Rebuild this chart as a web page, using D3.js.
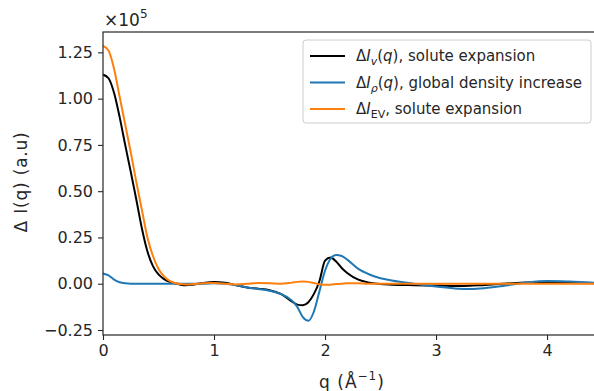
<!DOCTYPE html>
<html>
<head>
<meta charset="utf-8">
<script src="https://cdn.jsdelivr.net/npm/d3@7"></script>
<style>
  body { margin: 0; background: #fff; }
  svg text { font-family: "DejaVu Sans", sans-serif; fill: #262626; }
</style>
</head>
<body>
<div id="chart"></div>
<script>
// q grid (1/Angstrom) shared by all three curves
const qValues = [0, 0.05, 0.1, 0.15, 0.2, 0.25, 0.3, 0.35, 0.4, 0.45, 0.5, 0.55, 0.6, 0.65, 0.7, 0.75, 0.8, 0.9,
  1.0, 1.1, 1.2, 1.3, 1.4, 1.5, 1.6, 1.7, 1.75, 1.8, 1.85, 1.9, 1.95, 2.0, 2.05, 2.1, 2.15, 2.2, 2.3, 2.4, 2.5,
  2.6, 2.8, 3.0, 3.2, 3.3, 3.4, 3.6, 3.8, 4.0, 4.2, 4.5];

// values in units of 1e5
const solute = [1.13, 1.11, 1.03, 0.90, 0.75, 0.605, 0.455, 0.30, 0.175, 0.095, 0.05, 0.025, 0.01, 0.002, -0.005, -0.008, -0.006, 0.004,
  0.01, 0.006, -0.008, -0.02, -0.027, -0.035, -0.055, -0.095, -0.113, -0.116, -0.10, -0.055, 0.015, 0.125, 0.142, 0.12, 0.085, 0.058, 0.022, 0.006, -0.002,
  -0.005, -0.008, -0.01, -0.012, -0.011, -0.008, 0.0, 0.006, 0.01, 0.006, 0.002];

const density = [0.056, 0.045, 0.022, 0.008, 0.002, 0.0, 0.0, 0.0, 0.0, 0.0, 0.0, 0.0, 0.0, 0.0, 0.0, 0.0, 0.0, 0.0,
  0.002, 0.0, -0.008, -0.02, -0.028, -0.038, -0.055, -0.09, -0.125, -0.18, -0.2, -0.15, -0.04, 0.07, 0.135, 0.155, 0.15, 0.13, 0.08, 0.05, 0.03,
  0.018, 0.0, -0.015, -0.027, -0.029, -0.026, -0.012, 0.005, 0.015, 0.012, 0.003];

const excluded = [1.285, 1.26, 1.16, 1.01, 0.86, 0.71, 0.55, 0.40, 0.25, 0.15, 0.08, 0.04, 0.015, 0.004, -0.002, -0.004, -0.003, 0.002,
  0.004, 0.0, -0.004, 0.0, 0.004, 0.003, 0.0, 0.006, 0.01, 0.012, 0.01, 0.004, -0.004, -0.006, -0.005, -0.002, 0.0, 0.003, 0.002, 0.0, 0.0,
  0.0, 0.0, 0.0, 0.0, 0.0, 0.0, 0.0, 0.0, 0.0, 0.0, 0.0];

const xTicks = [0, 1, 2, 3, 4];
const yTicks = [-0.25, 0, 0.25, 0.5, 0.75, 1.0, 1.25];

const seriesColors = ["#000000", "#1f77b4", "#ff7f0e"];

const width = 594, height = 391;
// the axes run past the right edge of the picture (right spine is cut off)
const margin = { top: 32, right: -7, bottom: 56, left: 103 };

const svg = d3.select("#chart").append("svg")
  .attr("width", width)
  .attr("height", height);

const x = d3.scaleLinear().domain([0, 4.486]).range([margin.left, width - margin.right]);
const y = d3.scaleLinear().domain([-0.277, 1.36]).range([height - margin.bottom, margin.top]);

svg.append("clipPath").attr("id", "plot-clip")
  .append("rect")
  .attr("x", margin.left).attr("y", margin.top)
  .attr("width", width - margin.right - margin.left)
  .attr("height", height - margin.bottom - margin.top);

// Curves
const line = d3.line()
  .x((d, i) => x(qValues[i]))
  .y(d => y(d))
  .curve(d3.curveMonotoneX);

[solute, density, excluded].forEach((vals, i) => {
  svg.append("path")
    .attr("clip-path", "url(#plot-clip)")
    .attr("d", line(vals))
    .attr("fill", "none")
    .attr("stroke", seriesColors[i])
    .attr("stroke-width", 2);
});

// Axes
const xAxis = svg.append("g")
  .attr("transform", `translate(0,${height - margin.bottom})`)
  .call(d3.axisBottom(x).tickValues(xTicks).tickFormat(d3.format("d")).tickSize(5).tickPadding(5));

const yAxis = svg.append("g")
  .attr("transform", `translate(${margin.left},0)`)
  .call(d3.axisLeft(y).tickValues(yTicks).tickFormat(d => d3.format(".2f")(d).replace("-", "\u2212")).tickSize(5).tickPadding(5));

[xAxis, yAxis].forEach(g => {
  g.select(".domain").remove();
  g.selectAll("line").attr("stroke", "#262626").attr("stroke-width", 1.1);
  g.selectAll("text").attr("font-size", 16).attr("fill", "#262626");
});

// Frame
svg.append("rect")
  .attr("x", margin.left).attr("y", margin.top)
  .attr("width", width - margin.right - margin.left)
  .attr("height", height - margin.bottom - margin.top)
  .attr("fill", "none")
  .attr("stroke", "#262626")
  .attr("stroke-width", 1.2);

// Offset text
const offset = svg.append("text")
  .attr("x", margin.left + 1).attr("y", 26)
  .attr("font-size", 17);
offset.append("tspan").text("\u00d710");
offset.append("tspan").attr("font-size", 12).attr("dy", -8).text("5");

// Axis labels
const xLabel = svg.append("text")
  .attr("x", (margin.left + width - margin.right) / 2).attr("y", 388)
  .attr("text-anchor", "middle")
  .attr("font-size", 17)
  .attr("letter-spacing", 1);
xLabel.append("tspan").text("q (\u00c5");
xLabel.append("tspan").attr("font-size", 12).attr("dy", -8).text("\u22121");
xLabel.append("tspan").attr("dy", 8).text(")");

svg.append("text")
  .attr("transform", `translate(27,${y(0.55)}) rotate(-90)`)
  .attr("text-anchor", "middle")
  .attr("font-size", 17)
  .attr("letter-spacing", 0.8)
  .text("\u0394 I(q) (a.u)");

// Legend
const legend = svg.append("g");
legend.append("rect")
  .attr("x", 303).attr("y", 40)
  .attr("width", 288).attr("height", 83)
  .attr("rx", 3)
  .attr("fill", "#fff")
  .attr("fill-opacity", 0.8)
  .attr("stroke", "#cccccc");

const legendLabels = [
  [["\u0394", null], ["I", "italic"], ["v", "sub-italic"], ["(", null], ["q", "italic"], ["), solute expansion", null]],
  [["\u0394", null], ["I", "italic"], ["\u03c1", "sub-italic"], ["(", null], ["q", "italic"], ["), global density increase", null]],
  [["\u0394", null], ["I", "italic"], ["EV", "sub"], [", solute expansion", null]]
];

legendLabels.forEach((parts, i) => {
  const cy = 56 + i * 26.5;
  legend.append("line")
    .attr("x1", 310).attr("x2", 345)
    .attr("y1", cy).attr("y2", cy)
    .attr("stroke", seriesColors[i])
    .attr("stroke-width", 2);
  const t = legend.append("text")
    .attr("x", 356).attr("y", cy + 5)
    .attr("font-size", 15);
  let sub = false;
  parts.forEach(([s, style]) => {
    const span = t.append("tspan").text(s);
    if (style === "italic") span.attr("font-style", "italic");
    if (style && style.startsWith("sub")) {
      span.attr("font-size", 11).attr("dy", 4);
      if (style === "sub-italic") span.attr("font-style", "italic");
      sub = true;
    } else if (sub) {
      span.attr("dy", -4);
      sub = false;
    }
  });
});
</script>
</body>
</html>
